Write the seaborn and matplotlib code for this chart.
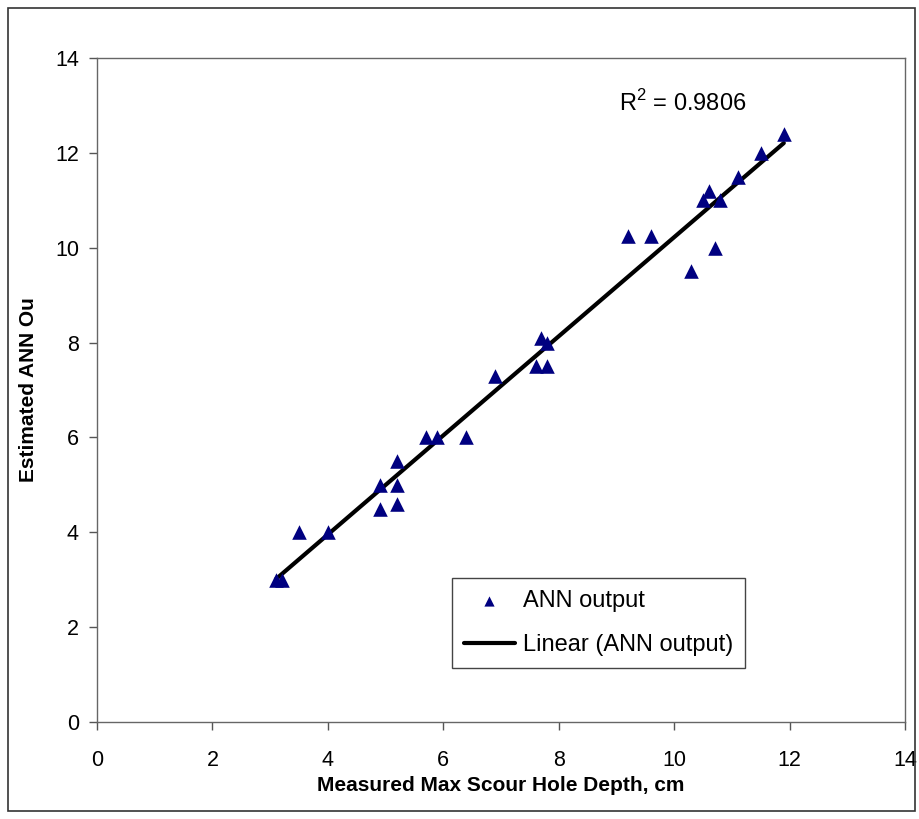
import matplotlib
matplotlib.use("Agg")
import matplotlib.pyplot as plt
import seaborn as sns
import pandas as pd
from matplotlib.patches import Rectangle

measured = [3.1, 3.2, 3.5, 4.0, 4.9, 4.9, 5.2, 5.2, 5.2, 5.7, 5.9, 6.4, 6.9,
            7.6, 7.7, 7.8, 7.8, 9.2, 9.6, 10.3, 10.7, 10.5, 10.6, 10.8, 11.1,
            11.5, 11.9]
estimated = [3.0, 3.0, 4.0, 4.0, 5.0, 4.5, 5.0, 4.6, 5.5, 6.0, 6.0, 6.0, 7.3,
             7.5, 8.1, 8.0, 7.5, 10.25, 10.25, 9.5, 10.0, 11.0, 11.2, 11.0, 11.5,
             12.0, 12.4]
ticks = [0, 2, 4, 6, 8, 10, 12, 14]
r2_text = "R$^2$ = 0.9806"

df = pd.DataFrame({"measured": measured, "estimated": estimated})

sns.set_style("white")
plt.rcParams["font.family"] = ["Liberation Sans", "DejaVu Sans"]
plt.rcParams["mathtext.fontset"] = "custom"
plt.rcParams["mathtext.rm"] = "Liberation Sans"
plt.rcParams["text.color"] = "black"
plt.rcParams["axes.labelcolor"] = "black"
plt.rcParams["xtick.color"] = "black"
plt.rcParams["ytick.color"] = "black"

fig = plt.figure(figsize=(9.2, 8.19), dpi=100)
ax = fig.add_axes([0.1054, 0.1184, 0.8783, 0.8108])

sns.regplot(data=df, x="measured", y="estimated", scatter=False, ci=None,
            truncate=True, color="black", line_kws={"lw": 3},
            label="Linear (ANN output)", ax=ax)
sns.scatterplot(data=df, x="measured", y="estimated", marker="^", s=110,
                color="#000080", edgecolor="#000080", linewidth=0,
                label="ANN output", ax=ax, zorder=3)

ax.set_xlim(0, 14)
ax.set_ylim(0, 14)
ax.set_xticks(ticks)
ax.set_yticks(ticks)
ax.set_xticklabels([str(t) for t in ticks])
ax.set_yticklabels([str(t) for t in ticks])
ax.tick_params(axis="both", direction="out", length=6, width=1,
               color="#555555", labelcolor="black", labelsize=15.5,
               left=True, bottom=True)
ax.tick_params(axis="x", pad=14)
ax.tick_params(axis="y", pad=7)
for sp in ax.spines.values():
    sp.set_visible(True)
    sp.set_color("#666666")
    sp.set_linewidth(1)

lblfont = ["Liberation Sans Narrow", "Liberation Sans", "DejaVu Sans"]
ax.set_xlabel("Measured Max Scour Hole Depth, cm", fontsize=15,
              fontweight="bold", family=lblfont, labelpad=4)
ax.set_ylabel("Estimated ANN Ou", fontsize=15, fontweight="bold",
              family=lblfont, labelpad=12)

ax.text(9.05, 13.05, r2_text, fontsize=17, va="center", ha="left")

handles, labels = ax.get_legend_handles_labels()
order = [labels.index("ANN output"), labels.index("Linear (ANN output)")]
leg = ax.legend([handles[i] for i in order], [labels[i] for i in order],
                loc="lower left", bbox_to_anchor=(0.439, 0.081),
                fontsize=17, frameon=True, fancybox=False,
                edgecolor="#444444", framealpha=1, borderpad=0.5,
                handlelength=2.2, handletextpad=0.3, labelspacing=0.95,
                markerscale=0.7, borderaxespad=0)
leg.get_frame().set_linewidth(1)

fig.patches.append(Rectangle((8 / 920, 8 / 819), 907 / 920, 803 / 819,
                             transform=fig.transFigure, fill=False,
                             edgecolor="#333333", linewidth=1.2))

fig.savefig("out.png", dpi=100)
